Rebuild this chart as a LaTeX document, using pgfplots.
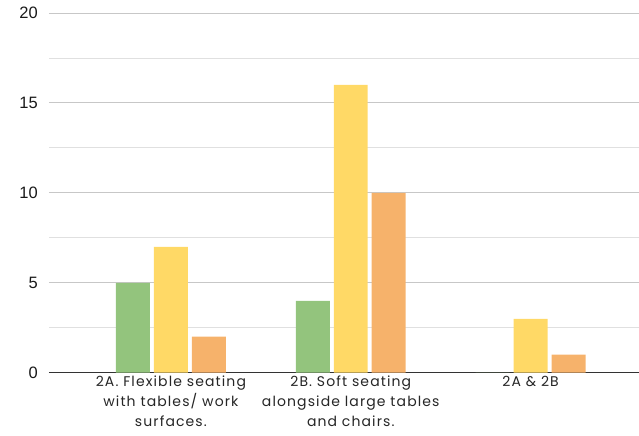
\documentclass[border=0pt]{standalone}
\usepackage{fontspec}
\setmainfont{Liberation Sans}
\newfontfamily\labfont[LetterSpace=8]{Poppins}
\usepackage{pgfplots}
\pgfplotsset{compat=1.18}
\definecolor{cgreen}{HTML}{93C47D}
\definecolor{cyellow}{HTML}{FFD966}
\definecolor{corange}{HTML}{F6B26B}
\begin{document}
\begin{tikzpicture}
\begin{axis}[
  at={(0,0)}, anchor=south west,
  scale only axis, width=590pt, height=360pt,
  xmin=-0.678, xmax=2.6, ymin=0, ymax=20,
  axis lines*=left,
  y axis line style={draw=none},
  x axis line style={color=black!80, line width=1pt, -},
  ytick={0,5,10,15,20}, minor ytick={2.5,7.5,12.5,17.5},
  ymajorgrids, yminorgrids,
  major grid style={color=black!22, line width=0.9pt},
  minor grid style={color=black!12, line width=0.9pt},
  yticklabel style={font=\fontsize{16.5}{18}\selectfont, inner sep=0pt, xshift=-11pt, text=black!90},
  /pgf/number format/assume math mode=true,
  xtick={0,1,2}, major tick length=0pt, minor tick length=0pt,
  xticklabels={{2A. Flexible seating\\with tables/ work\\surfaces.},{2B. Soft seating\\alongside large tables\\and chairs.},{2A \& 2B}},
  xticklabel style={font=\labfont\fontsize{14}{20}\selectfont, align=center, anchor=north, yshift=0pt, text=black!85},
  ybar, bar width=34pt,
  enlarge x limits=false,
]
\addplot[fill=cgreen, draw=none, bar shift=-38pt] coordinates {(0,5) (1,4) (2,0)};
\addplot[fill=cyellow, draw=none, bar shift=0pt] coordinates {(0,7) (1,16) (2,3)};
\addplot[fill=corange, draw=none, bar shift=38pt] coordinates {(0,2) (1,10) (2,1)};
\end{axis}
\path[use as bounding box] (-49pt,-63pt) rectangle (590pt,373pt);
\end{tikzpicture}
\end{document}
